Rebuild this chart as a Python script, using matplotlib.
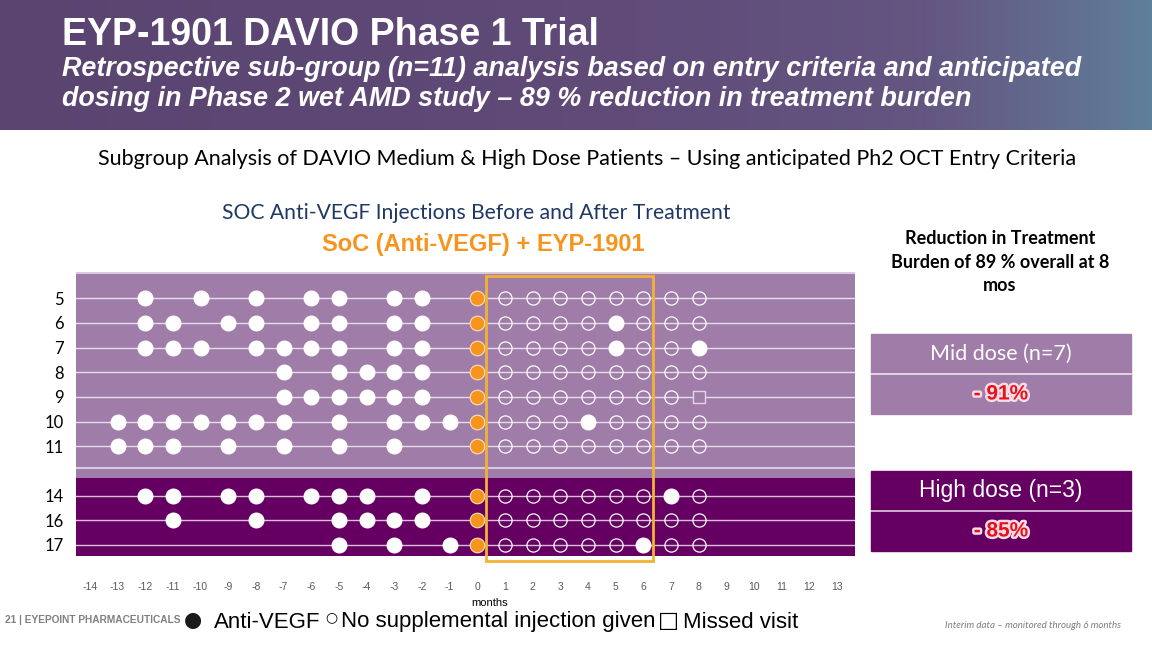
import matplotlib.pyplot as plt
import matplotlib.patheffects as pe
import numpy as np
from matplotlib.patches import Rectangle
from matplotlib.colors import LinearSegmentedColormap

# --- datos ---
pacientes = ['5', '6', '7', '8', '9', '10', '11', '14', '16', '17']
grupo = ['mid'] * 7 + ['high'] * 3

# meses con inyeccion anti-VEGF antes del tratamiento
antes = [
    [-12, -10, -8, -6, -5, -3, -2],
    [-12, -11, -9, -8, -6, -5, -3, -2],
    [-12, -11, -10, -8, -7, -6, -5, -3, -2],
    [-7, -5, -4, -3, -2],
    [-7, -6, -5, -4, -3, -2],
    [-13, -12, -11, -10, -9, -8, -7, -5, -3, -2, -1],
    [-13, -12, -11, -9, -7, -5, -3],
    [-12, -11, -9, -8, -6, -5, -4, -2],
    [-11, -8, -5, -4, -3, -2],
    [-5, -3, -1],
]
# inyecciones suplementarias despues de EYP-1901
suplemento = [[], [5], [5, 8], [], [], [4], [], [7], [], [6]]
# visitas perdidas
perdidas = [[], [], [], [], [8], [], [], [], [], []]
visitas = list(range(1, 9))
meses_ticks = list(range(-14, 14))

reduccion = {'Mid dose (n=7)': '- 91%', 'High dose (n=3)': '- 85%'}

# colores
LILA = '#A07CA8'
MORADO = '#650062'
NARANJA = '#F7941D'
ORO = '#F2B233'

W, H = 1152, 648


def fx(px):
    return px / W


def fy(py):
    return 1 - py / H


fig = plt.figure(figsize=(W / 100, H / 100), dpi=100)
fig.patch.set_facecolor('white')

# --- banner superior ---
bax = fig.add_axes([0, fy(130), 1, 130 / H])
cmap = LinearSegmentedColormap.from_list(
    'banner', [(0, '#5A4470'), (0.55, '#604B79'), (0.8, '#645581'), (0.92, '#626C8E'), (1, '#5F7F9B')])
grad = np.linspace(0, 1, 256).reshape(1, -1)
bax.imshow(grad, aspect='auto', cmap=cmap, extent=[0, 1, 0, 1])
bax.set_axis_off()

arial = ['Liberation Sans', 'DejaVu Sans']
lato = ['Lato', 'DejaVu Sans']
fig.text(fx(62), fy(35), 'EYP-1901 DAVIO Phase 1 Trial', color='white', fontsize=27,
         fontweight='bold', family=arial, va='center')
fig.text(fx(62), fy(84), 'Retrospective sub-group (n=11) analysis based on entry criteria and anticipated\n'
         'dosing in Phase 2 wet AMD study \u2013 89 % reduction in treatment burden',
         color='white', fontsize=19.4, fontweight='bold', style='italic',
         family=arial, va='center', linespacing=1.15)

# --- titulos ---
fig.text(fx(587), fy(159), 'Subgroup Analysis of DAVIO Medium & High Dose Patients \u2013 Using anticipated Ph2 OCT Entry Criteria',
         ha='center', va='center', fontsize=15.5, family=lato)
fig.text(fx(476), fy(213), 'SOC Anti-VEGF Injections Before and After Treatment', ha='center', va='center',
         fontsize=15.2, color='#1F3864', family=lato)
fig.text(fx(483), fy(244), 'SoC (Anti-VEGF) + EYP-1901', ha='center', va='center', fontsize=17,
         color=NARANJA, fontweight='bold', family=arial)

# --- grafico principal ---
ax = fig.add_axes([fx(76), fy(556), 779 / W, 284 / H])
pos = [i + (1 if g == 'high' else 0) for i, g in enumerate(grupo)]
ax.set_xlim(-14.5, 13.65)
ax.set_ylim(10.45, -1.06)

ax.axhspan(-1.06, 7.28, color=LILA, zorder=0, lw=0)
ax.axhspan(7.28, 10.45, color=MORADO, zorder=0, lw=0)
ax.axhline(-1.0, color='#D9CADD', lw=1.5, zorder=1)
ax.axhline(6.9, color='#D9CADD', lw=1.5, zorder=1)

for i, y in enumerate(pos):
    ax.axhline(y, color='white', lw=1, alpha=0.75, zorder=1)
    ax.plot(antes[i], [y] * len(antes[i]), 'o', color='white', ms=10.5, mec='white', zorder=3)
    ax.plot([0], [y], 'o', color=NARANJA, ms=10.5, mec='#FBE3C0', mew=0.8, zorder=3)
    abiertos = [m for m in visitas if m not in suplemento[i] and m not in perdidas[i]]
    ax.plot(abiertos, [y] * len(abiertos), 'o', mfc='none', mec='white', ms=9.5, mew=0.9, zorder=3)
    ax.plot(suplemento[i], [y] * len(suplemento[i]), 'o', color='white', ms=10.5, zorder=3)
    ax.plot(perdidas[i], [y] * len(perdidas[i]), 's', mfc=LILA, mec='#E3D6E6', ms=9, mew=1, zorder=3)

ax.add_patch(Rectangle((0.3, -0.9), 6.05, 11.55, fill=False, ec=ORO, lw=2, zorder=4, clip_on=False))

ax.set_yticks(pos)
ax.set_yticklabels(pacientes, fontsize=12, family=lato)
ax.set_xticks(meses_ticks)
ax.set_xticklabels([str(m) for m in meses_ticks], fontsize=7.5, color='#595959', family=arial)
ax.tick_params(length=0)
ax.tick_params(axis='x', pad=19)
ax.tick_params(axis='y', pad=9)
for s in ax.spines.values():
    s.set_visible(False)
fig.text(fx(490), fy(603), 'months', ha='center', va='center', fontsize=8, family=arial)

# --- panel derecho ---
fig.text(fx(1000), fy(262), 'Reduction in Treatment\nBurden of 89 % overall at 8\nmos', ha='center', va='center',
         fontsize=13, fontweight='bold', family=lato, linespacing=1.45)

for (etq, val), top, col, fam, fs in zip(reduccion.items(), [334, 471], [LILA, MORADO],
                                          [lato, arial], [15.5, 16.5]):
    fig.patches.append(Rectangle((fx(871), fy(top + 80)), 260 / W, 80 / H, transform=fig.transFigure,
                                 color=col, zorder=0))
    fig.add_artist(plt.Line2D([fx(871), fx(1131)], [fy(top + 40)] * 2, color='white', lw=1.2, alpha=0.8))
    fig.text(fx(1001), fy(top + 20), etq, ha='center', va='center', color='white', fontsize=fs, family=fam)
    fig.text(fx(1001), fy(top + 60), val, ha='center', va='center', color='#E8101A', fontsize=15,
             fontweight='bold', family=arial,
             path_effects=[pe.withStroke(linewidth=3.5, foreground='#F6DDE6')])

# --- pie ---
fig.text(fx(5), fy(620), '21 | EYEPOINT PHARMACEUTICALS', fontsize=7.3, fontweight='bold', color='#808080',
         va='center', family=arial)
fig.text(fx(193), fy(620), '\u25CF', fontsize=15, va='center', ha='center', color='#1A1A1A', family=['DejaVu Sans'])
fig.text(fx(214), fy(622), 'Anti-VEGF', fontsize=16, va='center', family=arial)
fig.text(fx(331), fy(617), '\u25CB', fontsize=10, va='center', ha='center', family=['DejaVu Sans'])
fig.text(fx(341), fy(622), 'No supplemental injection given', fontsize=16, va='center', family=arial)
fig.text(fx(668), fy(621), '\u25A1', fontsize=16, va='center', ha='center', family=['DejaVu Sans'])
fig.text(fx(683), fy(622), 'Missed visit', fontsize=16, va='center', family=arial)
fig.text(fx(1033), fy(625), 'Interim data \u2013 monitored through 6 months', fontsize=7, style='italic',
         color='#7F7F7F', ha='center', va='center', family=lato)

fig.savefig('out.png', dpi=100)
